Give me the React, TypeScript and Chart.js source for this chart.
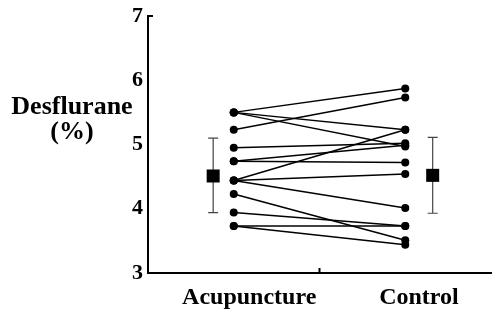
import React, { useEffect, useRef } from "react";
import { Chart, registerables } from "chart.js";

Chart.register(...registerables);

// ---- data ----
const categories = ["Acupuncture", "Control"];
const acupunctureValues = [5.5, 5.5, 5.5, 5.23, 4.95, 4.74, 4.74, 4.44, 4.44, 4.44, 4.23, 3.94, 3.73, 3.73];
const controlValues = [5.87, 5.23, 4.97, 5.73, 5.02, 4.99, 4.72, 5.23, 4.54, 4.01, 3.51, 3.73, 3.73, 3.44];
const meanValues = [4.51, 4.52];
const upperValues = [5.1, 5.11];
const lowerValues = [3.94, 3.93];
const yTickValues = [3, 4, 5, 6, 7];
const yTitleLines = ["Desflurane", "(%)"];

// ---- positions on the x scale (layout, not data) ----
const X_MIN = 0;
const X_MAX = 4;
const GROUP_X = [1, 3];
const MEAN_X = [0.76, 3.32];
const LABEL_X = [1.18, 3.16];
const DIVIDER_X = 2;

const FONT = "'Liberation Serif', 'Times New Roman', serif";

export default function App() {
  const ref = useRef<HTMLCanvasElement | null>(null);

  useEffect(() => {
    const canvas = ref.current;
    if (!canvas) return;

    const pairDatasets = acupunctureValues.map((a, i) => ({
      type: "scatter" as const,
      data: [
        { x: GROUP_X[0], y: a },
        { x: GROUP_X[1], y: controlValues[i] },
      ],
      showLine: true,
      borderColor: "#000",
      borderWidth: 1.5,
      pointRadius: 4,
      pointBackgroundColor: "#000",
      pointBorderWidth: 0,
      order: 1,
    }));

    const meanDataset = {
      type: "scatter" as const,
      data: meanValues.map((m, i) => ({ x: MEAN_X[i], y: m })),
      showLine: false,
      pointStyle: "rect",
      pointRadius: 9.2,
      pointBackgroundColor: "#000",
      pointBorderWidth: 0,
      order: 0,
    };

    const overlay = {
      id: "overlay",
      beforeDatasetsDraw(chart: any) {
        const { ctx, scales } = chart;
        const xs = scales.x;
        const ys = scales.y;
        ctx.save();
        ctx.strokeStyle = "#444";
        ctx.lineWidth = 1.2;
        meanValues.forEach((_, i) => {
          const px = xs.getPixelForValue(MEAN_X[i]);
          const top = ys.getPixelForValue(upperValues[i]);
          const bot = ys.getPixelForValue(lowerValues[i]);
          ctx.beginPath();
          ctx.moveTo(px, top);
          ctx.lineTo(px, bot);
          ctx.moveTo(px - 5, top);
          ctx.lineTo(px + 5, top);
          ctx.moveTo(px - 5, bot);
          ctx.lineTo(px + 5, bot);
          ctx.stroke();
        });
        ctx.restore();
      },
      afterDraw(chart: any) {
        const { ctx, scales, chartArea } = chart;
        const xs = scales.x;
        const ys = scales.y;
        ctx.save();
        ctx.strokeStyle = "#000";
        ctx.lineWidth = 2;
        const yTop = ys.getPixelForValue(yTickValues[yTickValues.length - 1]);
        ctx.beginPath();
        ctx.moveTo(chartArea.left, yTop);
        ctx.lineTo(chartArea.left + 5, yTop);
        ctx.stroke();
        const dx = xs.getPixelForValue(DIVIDER_X);
        ctx.beginPath();
        ctx.moveTo(dx, chartArea.bottom);
        ctx.lineTo(dx, chartArea.bottom - 5);
        ctx.stroke();
        ctx.fillStyle = "#000";
        ctx.font = `bold 26px ${FONT}`;
        ctx.textAlign = "center";
        ctx.textBaseline = "alphabetic";
        ctx.fillText(yTitleLines[0], 72, 114);
        ctx.fillText(yTitleLines[1], 72, 139);
        ctx.restore();
      },
    };

    const chart = new Chart(canvas, {
      type: "scatter",
      data: { datasets: [...pairDatasets, meanDataset] as any },
      options: {
        responsive: false,
        animation: false,
        events: [],
        layout: { autoPadding: false, padding: { left: 0, right: 1, top: 16, bottom: 0 } },
        plugins: { legend: { display: false }, tooltip: { enabled: false } },
        scales: {
          x: {
            type: "linear",
            min: X_MIN,
            max: X_MAX,
            afterBuildTicks: (s: any) => {
              s.ticks = LABEL_X.map((v) => ({ value: v }));
            },
            afterFit: (s: any) => {
              s.height = 37;
              s.paddingLeft = 0;
              s.paddingRight = 0;
            },
            ticks: {
              autoSkip: false,
              maxRotation: 0,
              padding: 10,
              color: "#000",
              font: { family: FONT, size: 24, weight: "bold" },
              callback: (_v: any, i: number) => categories[i],
            },
            grid: { display: false, drawTicks: false, tickLength: 0 },
            border: { display: true, color: "#000", width: 2 },
          },
          y: {
            type: "linear",
            min: yTickValues[0],
            max: yTickValues[yTickValues.length - 1],
            afterBuildTicks: (s: any) => {
              s.ticks = yTickValues.map((v) => ({ value: v }));
            },
            afterFit: (s: any) => {
              s.width = 148;
              s.paddingTop = 0;
              s.paddingBottom = 0;
            },
            ticks: {
              padding: 5,
              color: "#000",
              font: { family: FONT, size: 22, weight: "bold" },
            },
            grid: { display: false, drawTicks: false, tickLength: 0 },
            border: { display: true, color: "#000", width: 2 },
          },
        },
      } as any,
      plugins: [overlay],
    });

    return () => chart.destroy();
  }, []);

  return (
    <div style={{ position: "fixed", left: 0, top: 0, width: 492, height: 310, background: "#fff" }}>
      <canvas ref={ref} width={492} height={310} style={{ width: 492, height: 310, display: "block" }} />
    </div>
  );
}
